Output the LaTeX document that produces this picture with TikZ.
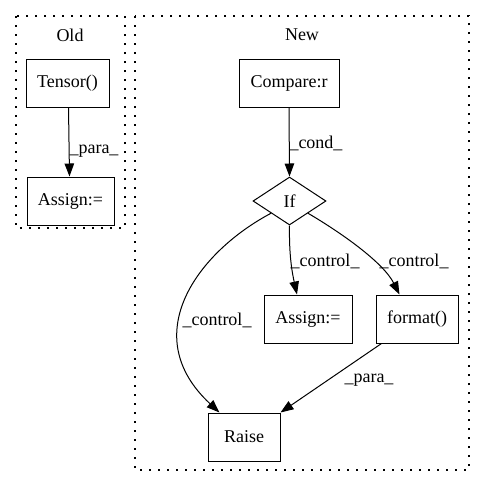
\documentclass[tikz,border=0pt]{standalone}
\usepackage{fontspec}
\setmainfont{Liberation Serif}
\usetikzlibrary{arrows.meta,shapes.geometric}
\begin{document}
\begin{tikzpicture}[x=1pt,y=-1pt,
  font=\fontsize{18}{20}\selectfont,
  cluster/.style={draw,line width=1.2pt,dash pattern=on 1.6pt off 7.4pt},
  box/.style={draw,line width=1pt,rectangle,inner sep=0pt,minimum height=48pt},
  cond/.style={draw,line width=1pt,diamond,inner sep=0pt,minimum width=73pt,minimum height=48pt},
  edge/.style={draw,line width=1pt,-{Triangle[length=13pt,width=9.5pt]}},
  lbl/.style={inner sep=0pt}]
\useasboundingbox (0,0) rectangle (485,488);

% clusters
\draw[cluster] (16,16) rectangle (125,228);
\draw[cluster] (135,16) rectangle (469,470);
\node[lbl] (oldtitle) at (70,35) {Old};
\node[lbl] (newtitle) at (302,35) {New};

% Old
\node[box,minimum width=83pt] (tensor) at (67.5,83) {Tensor()};
\node[box,minimum width=87pt] (oldassign) at (70.5,201) {Assign:=};

% New
\node[box,minimum width=100pt] (compare) at (289,83) {Compare:r};
\node[cond] (ifn) at (289.5,201) {If};
\node[box,minimum width=88pt] (newassign) at (308,319) {Assign:=};
\node[box,minimum width=82pt] (fmt) at (417,319) {format()};
\node[box,minimum width=72pt] (raise) at (244,437) {Raise};

% edges
\draw[edge] ([xshift=1pt]tensor.south) -- ([xshift=-1pt]oldassign.north);
\node[lbl] (l1) at (94,151) {\_para\_};

\draw[edge] (compare.south) -- (ifn.north);
\node[lbl] (l2) at (316,143) {\_cond\_};

\draw[edge] (ifn.south west) .. controls (198,252) and (136,335) .. ([xshift=12pt]raise.north west);
\node[lbl] (l3) at (217,320) {\_control\_};

\draw[edge] (ifn.south) .. controls (289,255) and (292,272) .. ([xshift=-11pt]newassign.north);
\node[lbl] (l4) at (325,261) {\_control\_};

\draw[edge] (ifn.south east) .. controls (340,232) and (383,262) .. ([xshift=24pt]fmt.north west);
\node[lbl] (l5) at (414,261) {\_control\_};

\draw[edge] ([xshift=6pt]fmt.south west) -- (raise.north east);
\node[lbl] (l6) at (369,380) {\_para\_};
\end{tikzpicture}
\end{document}
